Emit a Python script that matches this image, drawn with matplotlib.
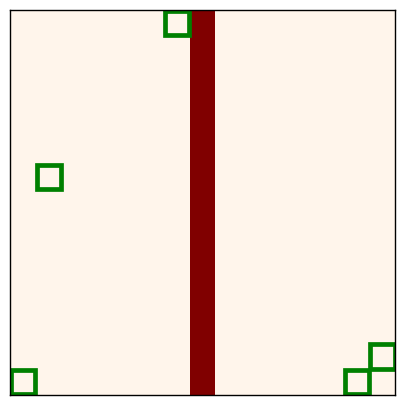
import numpy as np
import matplotlib
matplotlib.use("Agg")
import matplotlib.pyplot as plt
from matplotlib.colors import ListedColormap
from matplotlib.patches import Rectangle

# grid world: 15 x 15 cells, one wall column, a few target cells
n_rows = 15
n_cols = 15
wall_cols = [7]
target_cols = [6, 1, 0, 13, 14]
target_rows = [0, 6, 14, 14, 13]

grid = np.zeros((n_rows, n_cols))
for c in wall_cols:
    grid[:, c] = 1

cmap = ListedColormap(["#fff5eb", "#800000"])

fig = plt.figure(figsize=(4.05, 4.05), dpi=100)
ax = fig.add_axes([0.0254, 0.0246, 0.9506, 0.9506])
ax.imshow(grid, cmap=cmap, vmin=0, vmax=1, interpolation="nearest")

box = 0.95
for c, r in zip(target_cols, target_rows):
    ax.add_patch(Rectangle((c - box / 2, r - box / 2), box, box,
                           fill=False, edgecolor="green", linewidth=3.4))

ax.set_xlim(-0.5, n_cols - 0.5)
ax.set_ylim(n_rows - 0.5, -0.5)
ax.set_xticks([])
ax.set_yticks([])
for s in ax.spines.values():
    s.set_linewidth(1)

fig.savefig("out.png", dpi=100)
